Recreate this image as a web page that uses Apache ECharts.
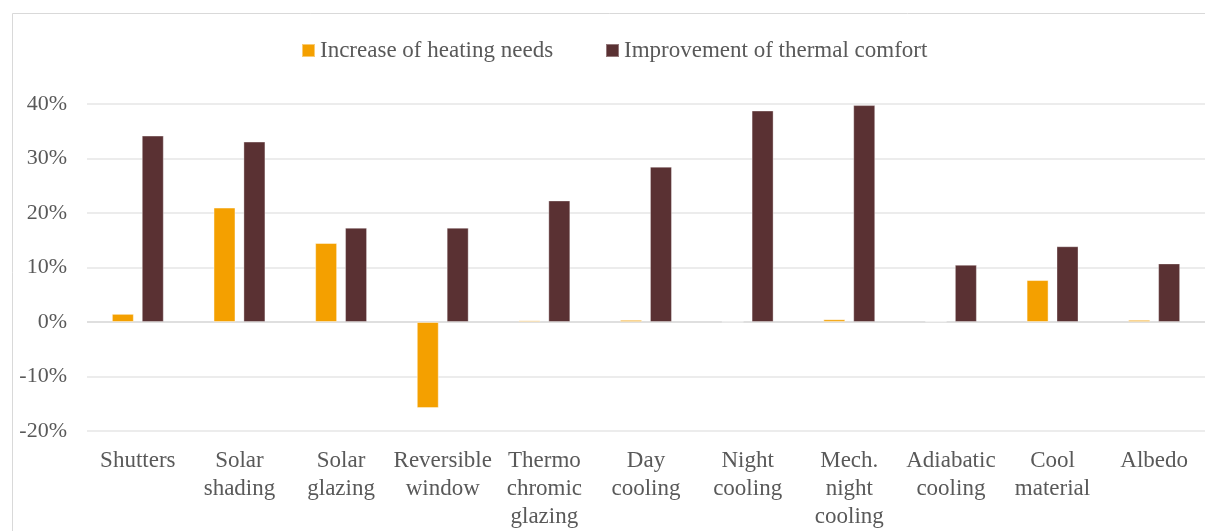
<!DOCTYPE html>
<html>
<head>
<meta charset="utf-8">
<script src="https://cdn.jsdelivr.net/npm/echarts@6/dist/echarts.min.js"></script>
<style>
html,body{margin:0;padding:0;background:#fff;}
#c{width:1205px;height:531px;}
</style>
</head>
<body>
<div id="c"></div>
<script>
const categories = ["Shutters", "Solar\nshading", "Solar\nglazing", "Reversible\nwindow", "Thermo\nchromic\nglazing", "Day\ncooling", "Night\ncooling", "Mech.\nnight\ncooling", "Adiabatic\ncooling", "Cool\nmaterial", "Albedo"];
const heatingNeeds = [1.5, 21.0, 14.5, -15.8, 0.3, 0.4, 0.05, 0.5, 0.12, 7.7, 0.4];
const thermalComfort = [34.2, 33.1, 17.3, 17.3, 22.3, 28.5, 38.8, 39.8, 10.5, 13.9, 10.75];
const seriesNames = ["Increase of heating needs", "Improvement of thermal comfort"];
const yTicks = { min: -20, max: 40, interval: 10 };

const font = "'Liberation Serif', 'DejaVu Serif', serif";
const textColor = '#595959';
const chart = echarts.init(document.getElementById('c'), null, { renderer: 'canvas' });
const legendCommon = {
  top: 34, itemWidth: 13, itemHeight: 13, icon: 'rect',
  textStyle: { fontFamily: font, fontSize: 23, color: textColor }
};
chart.setOption({
  animation: false,
  backgroundColor: '#fff',
  textStyle: { fontFamily: font },
  graphic: [{
    type: 'polyline', shape: { points: [[12.5, 600], [12.5, 13.5], [1300, 13.5]] },
    style: { fill: 'none', stroke: '#d9d9d9', lineWidth: 1 }, silent: true, z: -1
  }],
  legend: [
    Object.assign({ left: 296, data: [seriesNames[0]] }, legendCommon),
    Object.assign({ left: 600, data: [seriesNames[1]] }, legendCommon)
  ],
  grid: { left: 87, right: -1, top: 104, bottom: 100, containLabel: false },
  xAxis: {
    type: 'category', data: categories, position: 'bottom',
    axisLine: { show: false, onZero: false }, axisTick: { show: false },
    axisLabel: { interval: 0, margin: 16, fontFamily: font, fontSize: 23, color: textColor, lineHeight: 28, verticalAlign: 'top' },
    splitLine: { show: false }
  },
  yAxis: {
    type: 'value', min: yTicks.min, max: yTicks.max, interval: yTicks.interval,
    axisLine: { show: false }, axisTick: { show: false },
    axisLabel: { formatter: '{value}%', fontFamily: font, fontSize: 22, color: textColor, margin: 20 },
    splitLine: { lineStyle: { color: ['#e6e6e6', '#e6e6e6', '#d4d4d4', '#e6e6e6', '#e6e6e6', '#e6e6e6', '#e6e6e6'], width: 1.5 } }
  },
  series: [
    { name: seriesNames[0], type: 'bar', data: heatingNeeds, barWidth: 22, barGap: '36%',
      itemStyle: { color: '#F4A000', borderColor: 'rgba(255,255,255,0.45)', borderWidth: 1 } },
    { name: seriesNames[1], type: 'bar', data: thermalComfort, barWidth: 22, barGap: '36%',
      itemStyle: { color: '#5A3133', borderColor: 'rgba(255,255,255,0.35)', borderWidth: 1 } }
  ]
});
</script>
</body>
</html>
